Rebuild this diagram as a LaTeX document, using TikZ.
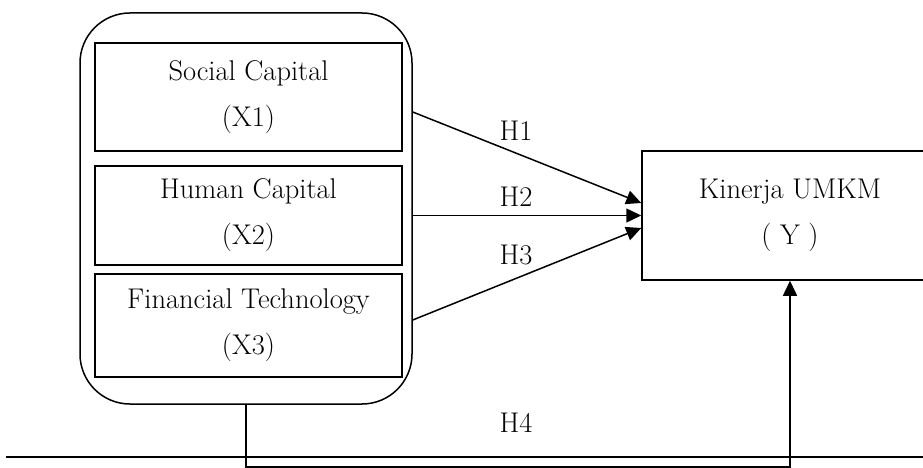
\documentclass[tikz,border=0pt]{standalone}
\usetikzlibrary{arrows.meta,calc}

\tikzset{
  varbox/.style={draw, line width=1.5pt, minimum width=307, minimum height=#1,
    align=center, font=\fontsize{28.5}{46}\selectfont},
  hyp/.style={line width=1.5pt, -{Triangle[length=15pt,width=14pt]}},
  hyplabel/.style={font=\fontsize{28.5}{30}\selectfont}
}

\begin{document}
\begin{tikzpicture}[x=1pt, y=-1pt]
    \useasboundingbox (0,0) rectangle (923,468);

    % Independent variables
    \node[draw, line width=1.5pt, rounded corners=50, minimum width=332, minimum height=391] (grp) at (246,208.5) {};
    \node[varbox=108] (x1) at (248.5,97) {Social Capital\\(X1)};
    \node[varbox=99] (x2) at (248.5,215.5) {Human Capital\\(X2)};
    \node[varbox=103] (x3) at (248.5,325.5) {Financial Technology\\(X3)};

    % Dependent variable
    \node[varbox=129, minimum width=296] (kin) at (790,215.5) {Kinerja UMKM\\( Y )};

    % Hypotheses
    \draw[hyp] ($(grp.east |- x1)+(0,15)$) -- ($(kin.west)+(0,-12.5)$);
    \draw[hyp] (grp.east |- kin.west) -- (kin.west);
    \draw[hyp] ($(grp.east |- x3)+(0,-5.5)$) -- ($(kin.west)+(0,12.5)$);
    \node[hyplabel] (h1) at (516,131) {H1};
    \node[hyplabel] (h2) at (516,197) {H2};
    \node[hyplabel] (h3) at (516,255) {H3};

    % Simultaneous effect
    \coordinate (h4turn) at (790,467);
    \draw[hyp] (grp.south) |- (h4turn) -- (kin.south);
    \node[hyplabel] (h4) at (516,423) {H4};

    % Rule
    \draw[line width=1.6pt] (6,457) -- (923,457);

\end{tikzpicture}
\end{document}
